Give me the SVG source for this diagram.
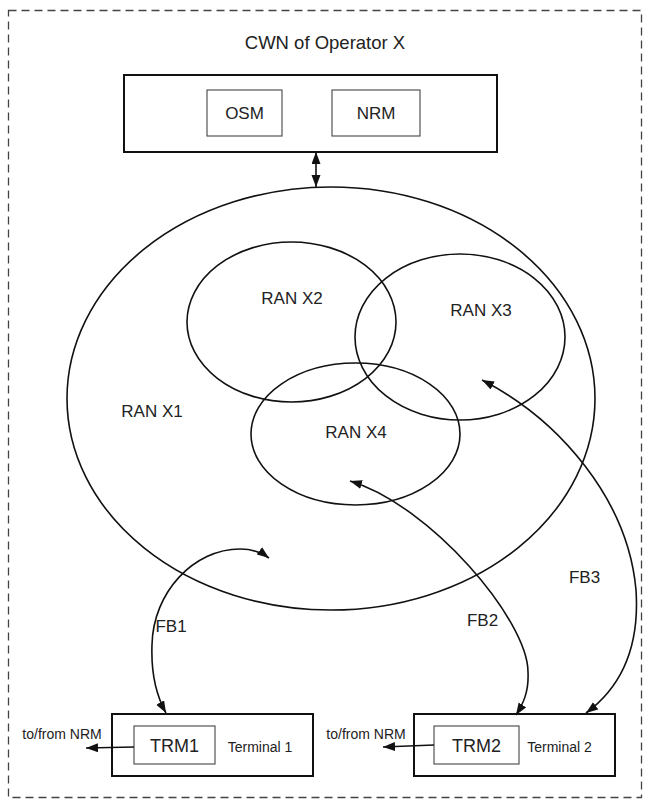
<svg xmlns="http://www.w3.org/2000/svg" width="650" height="802" viewBox="0 0 650 802">
<style>
text{font-family:"Liberation Sans",Arial,sans-serif;fill:#222;}
.lbl{font-size:17px;text-anchor:middle;}
.box{fill:#fff;stroke:#111;stroke-width:2;}
.inner{fill:#fff;stroke:#444;stroke-width:1.1;}
.ell{fill:none;stroke:#111;stroke-width:1.6;}
.con{fill:none;stroke:#111;stroke-width:1.6;}
</style>
<defs>
<marker id="ah" markerUnits="userSpaceOnUse" markerWidth="13" markerHeight="10" refX="12" refY="4.5" orient="auto-start-reverse" viewBox="0 0 13 10">
<path d="M0,0 L12,4.5 L0,9 z" fill="#111"/>
</marker>
</defs>
<rect id="border" x="8.5" y="10.5" width="633" height="787" fill="none" stroke="#444" stroke-width="1.3" stroke-dasharray="8,5"/>
<g id="cwn">
<text x="325" y="49" style="font-size:18.5px;text-anchor:middle">CWN of Operator X</text>
<rect class="box" x="124" y="75" width="373" height="77"/>
</g>
<g id="osm">
<rect class="inner" x="207" y="90" width="75" height="46"/>
<text class="lbl" x="244.5" y="119">OSM</text>
</g>
<g id="nrm">
<rect class="inner" x="332" y="90" width="88" height="46"/>
<text class="lbl" x="376" y="119">NRM</text>
</g>
<g id="ranx1">
<ellipse class="ell" cx="331" cy="398.5" rx="264" ry="211.5"/>
<text class="lbl" x="152" y="417">RAN X1</text>
</g>
<g id="ranx2">
<ellipse class="ell" cx="291.5" cy="322" rx="104.5" ry="80"/>
<text class="lbl" x="292" y="304">RAN X2</text>
</g>
<g id="ranx3">
<ellipse class="ell" cx="460" cy="337" rx="105" ry="83"/>
<text class="lbl" x="481" y="316">RAN X3</text>
</g>
<g id="ranx4">
<ellipse class="ell" cx="355.5" cy="434" rx="104.5" ry="71"/>
<text class="lbl" x="356" y="438">RAN X4</text>
</g>
<g id="terminal1">
<rect class="box" x="112" y="714" width="201" height="62"/>
<rect class="inner" x="134" y="726" width="81" height="38"/>
<text x="174.5" y="752" style="font-size:18px;text-anchor:middle">TRM1</text>
<text x="260" y="752" style="font-size:14px;text-anchor:middle">Terminal 1</text>
</g>
<g id="terminal2">
<rect class="box" x="414" y="714" width="201" height="62"/>
<rect class="inner" x="434" y="726" width="85" height="38"/>
<text x="476.5" y="752" style="font-size:18px;text-anchor:middle">TRM2</text>
<text x="559.5" y="752" style="font-size:14px;text-anchor:middle">Terminal 2</text>
</g>
<g id="connectors">
<line class="con" x1="316" y1="152" x2="316" y2="187" marker-start="url(#ah)" marker-end="url(#ah)"/>
<path class="con" d="M166,713 C156,695 151,672 152,645 C153,592 194,549 240,549 C251,549 261,552 269,558" marker-start="url(#ah)" marker-end="url(#ah)"/>
<path class="con" d="M350,481 C430,505 528,620 528,672 C529,692 523,704 516,715" marker-start="url(#ah)" marker-end="url(#ah)"/>
<path class="con" d="M482,380 C560,420 628,500 636,590 C640,650 620,688 586,713" marker-start="url(#ah)" marker-end="url(#ah)"/>
<line class="con" x1="134" y1="747" x2="86" y2="748" marker-end="url(#ah)"/>
<line class="con" x1="434" y1="745" x2="383" y2="747" marker-end="url(#ah)"/>
<text class="lbl" x="171" y="632">FB1</text>
<text class="lbl" x="482.5" y="626">FB2</text>
<text class="lbl" x="584.5" y="583">FB3</text>
<text x="62" y="739" style="font-size:14px;text-anchor:middle">to/from NRM</text>
<text x="366" y="739" style="font-size:14px;text-anchor:middle">to/from NRM</text>
</g>
</svg>
